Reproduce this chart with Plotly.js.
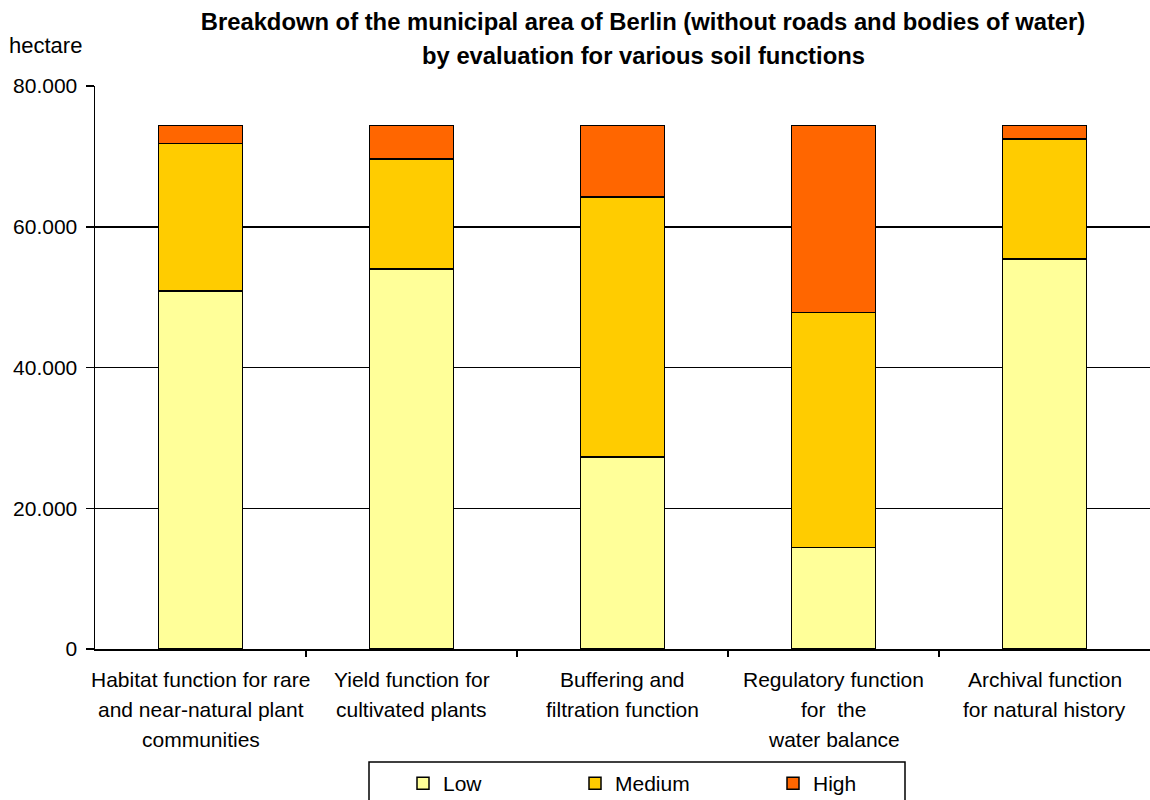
<!DOCTYPE html>
<html>
<head>
<meta charset="utf-8">
<script src="https://cdn.plot.ly/plotly-3.0.1.min.js"></script>
<style>html,body{margin:0;padding:0;background:#fff;}#chart{width:1150px;height:800px;}</style>
</head>
<body>
<div id="chart"></div>
<script>
const categories = [
  "Habitat function for rare<br>and near-natural plant<br>communities",
  "Yield function for<br>cultivated plants",
  "Buffering and<br>filtration function",
  "Regulatory function<br>for  the<br>water balance",
  "Archival function<br>for natural history"
];
const low    = [50900, 54000, 27250, 14450, 55400];
const medium = [20950, 15650, 36950, 33350, 17050];
const high   = [2550, 4750, 10200, 26600, 1950];
const seriesNames = ["Low", "Medium", "High"];
const seriesColors = ["#FFFF99", "#FFCC00", "#FF6600"];
const titleLines = ["Breakdown of the municipal area of Berlin (without roads and bodies of water)", "by evaluation for various soil functions"];
const yTickVals = [0, 20000, 40000, 60000, 80000];

const FONT = "Liberation Sans, Arial, sans-serif";
const LBL = 21;
const xIdx = categories.map((c, i) => i);
const legendIds = ["legend", "legend2", "legend3"];
const legendSymbolX = [425, 597, 795];

const traces = [low, medium, high].map((vals, k) => ({
  type: "bar",
  name: seriesNames[k],
  legend: legendIds[k],
  x: xIdx,
  y: vals,
  width: 0.4,
  marker: {color: seriesColors[k], line: {color: "#000", width: 1.5}},
  hoverinfo: "y+name"
}));

const annotations = [];
categories.forEach((c, i) => {
  c.split("<br>").forEach((line, j) => {
    annotations.push({
      x: i, xref: "x", y: 0, yref: "paper",
      text: line, showarrow: false,
      yanchor: "middle", xanchor: "center",
      yshift: -(30 + 30 * j),
      font: {family: FONT, size: LBL, color: "#000"}
    });
  });
});
annotations.push({
  xref: "paper", x: (643 - 95) / 1055, yref: "paper", y: 1, yanchor: "middle", yshift: 31,
  text: "<b>" + titleLines[1] + "</b>", showarrow: false,
  font: {family: FONT, size: 23.8, color: "#000"}
});
annotations.push({
  xref: "paper", x: (7 - 95) / 1055, xanchor: "left", yref: "paper", y: 1, yanchor: "middle", yshift: 41,
  text: "hectare", showarrow: false,
  font: {family: FONT, size: 22, color: "#000"}
});

const layout = {
  width: 1150, height: 800,
  margin: {l: 95, r: 0, t: 86, b: 151},
  paper_bgcolor: "#fff", plot_bgcolor: "#fff",
  barmode: "stack",
  separators: ",.",
  font: {family: FONT, size: LBL, color: "#000"},
  title: {
    text: "<b>" + titleLines[0] + "</b>",
    x: 643 / 1150, xanchor: "center", xref: "container",
    y: 1 - 22 / 800, yanchor: "middle", yref: "container",
    font: {family: FONT, size: 23.8, color: "#000"}
  },
  xaxis: {
    range: [-0.5, 4.5],
    tickmode: "array", tickvals: [0.5, 1.5, 2.5, 3.5],
    showticklabels: false,
    ticks: "outside", ticklen: 6, tickcolor: "#000", tickwidth: 1.5,
    showline: true, linecolor: "#000", linewidth: 1.5,
    showgrid: false, zeroline: false, fixedrange: true
  },
  yaxis: {
    range: [0, 80000],
    tickmode: "array", tickvals: yTickVals,
    tickformat: ",d",
    ticks: "outside", ticklen: 8, tickcolor: "#000", tickwidth: 1.5,
    ticklabelstandoff: 4,
    showline: true, linecolor: "#000", linewidth: 1.5,
    showgrid: true, gridcolor: "#000", gridwidth: 1.5,
    zeroline: false, fixedrange: true,
    tickfont: {family: FONT, size: LBL, color: "#000"}
  },
  showlegend: true,
  shapes: [{
    type: "rect", xref: "paper", yref: "paper",
    x0: (369 - 95) / 1055, x1: (905 - 95) / 1055,
    y0: -(810 - 649) / 563, y1: -(762 - 649) / 563,
    line: {color: "#000", width: 1.5}, fillcolor: "rgba(0,0,0,0)"
  }],
  annotations: annotations
};
legendIds.forEach((id, k) => {
  layout[id] = {
    orientation: "h",
    x: (legendSymbolX[k] - 22) / 1150, xref: "container", xanchor: "left",
    y: 1 - 763 / 800, yref: "container", yanchor: "top",
    borderwidth: 0, bgcolor: "rgba(0,0,0,0)",
    itemwidth: 30,
    font: {family: FONT, size: LBL, color: "#000"}
  };
});

Plotly.newPlot("chart", traces, layout, {displayModeBar: false, staticPlot: true});
</script>
</body>
</html>
